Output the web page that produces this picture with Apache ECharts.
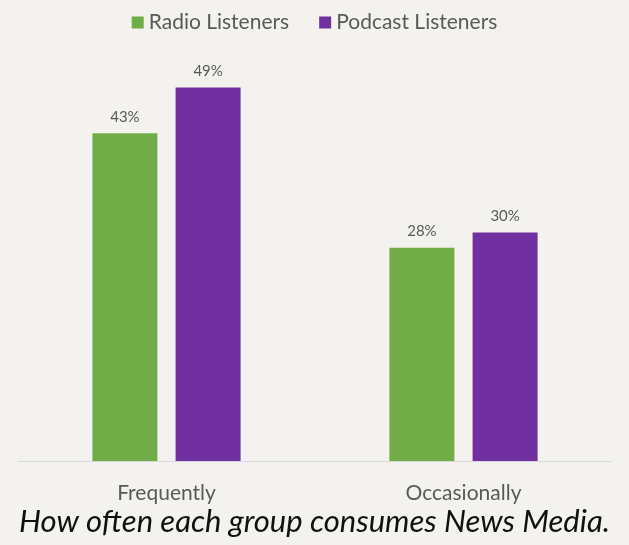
<!DOCTYPE html>
<html>
<head>
<meta charset="utf-8">
<script src="https://cdn.jsdelivr.net/npm/echarts@6/dist/echarts.min.js"></script>
<style>
  html, body { margin: 0; padding: 0; background: #f4f2ee; }
  #chart { width: 629px; height: 545px; }
</style>
</head>
<body>
<div id="chart"></div>
<script>
// Share of each audience group consuming news media, by frequency
const categories = ['Frequently', 'Occasionally'];
const radioListeners = [43, 28];
const podcastListeners = [49, 30];
const seriesNames = ['Radio Listeners', 'Podcast Listeners'];
const captionText = 'How often each group consumes News Media.';

const chart = echarts.init(document.getElementById('chart'));

const labelStyle = {
  show: true,
  position: 'top',
  distance: 9,
  formatter: '{c}%',
  color: '#595959',
  fontFamily: 'Lato',
  fontSize: 15
};

chart.setOption({
  backgroundColor: '#f4f2ee',
  animation: false,
  title: {
    text: captionText,
    left: 'center',
    bottom: 3,
    textStyle: {
      fontFamily: 'Lato',
      fontStyle: 'italic',
      fontWeight: 'normal',
      fontSize: 31,
      color: '#111111'
    }
  },
  legend: {
    top: 7,
    left: 'center',
    itemWidth: 12,
    itemHeight: 12,
    itemGap: 30,
    icon: 'rect',
    textStyle: { fontFamily: 'Lato', fontSize: 21, color: '#595959' },
    data: seriesNames
  },
  grid: { left: 18, right: 17, top: 80, bottom: 84 },
  xAxis: {
    type: 'category',
    data: categories,
    axisLine: { lineStyle: { color: '#d9d9d9', width: 1 } },
    axisTick: { show: false },
    axisLabel: {
      margin: 22,
      fontFamily: 'Lato',
      fontSize: 21,
      color: '#595959'
    }
  },
  yAxis: {
    type: 'value',
    min: 0,
    max: 50,
    show: false
  },
  series: [
    {
      name: seriesNames[0],
      type: 'bar',
      data: radioListeners,
      barWidth: 65,
      barGap: '28%',
      itemStyle: { color: '#70ad47' },
      label: labelStyle
    },
    {
      name: seriesNames[1],
      type: 'bar',
      data: podcastListeners,
      barWidth: 65,
      barGap: '28%',
      itemStyle: { color: '#7030a0' },
      label: labelStyle
    }
  ]
});
</script>
</body>
</html>
